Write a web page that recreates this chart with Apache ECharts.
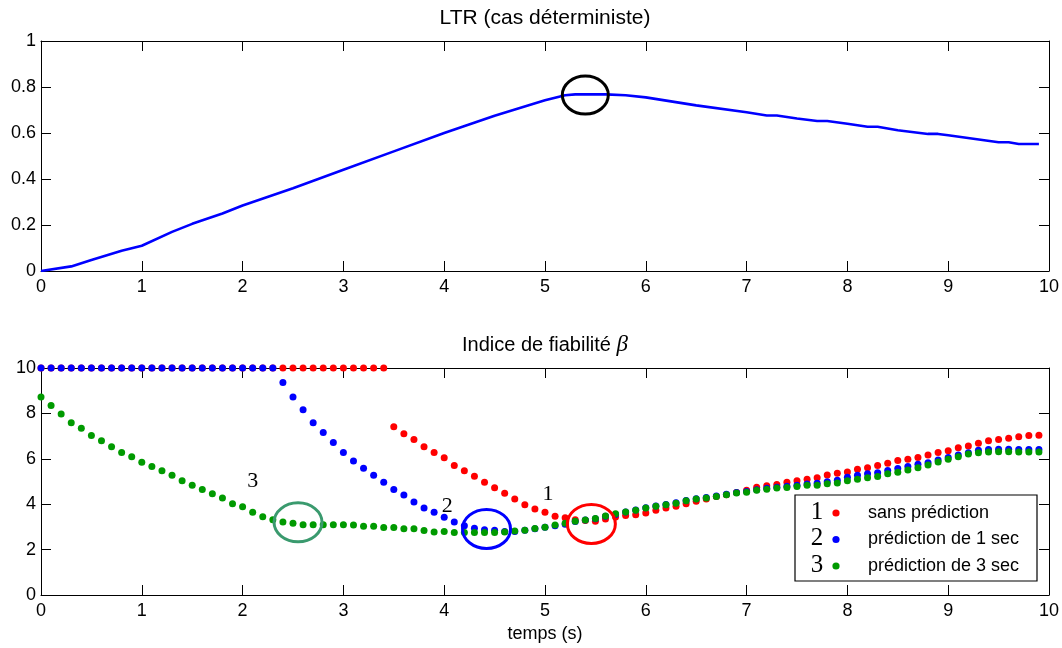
<!DOCTYPE html>
<html>
<head>
<meta charset="utf-8">
<script src="https://cdn.jsdelivr.net/npm/echarts@6/dist/echarts.min.js"></script>
<style>
html,body{margin:0;padding:0;background:#fff;}
#c{width:1062px;height:648px;}
</style>
</head>
<body>
<div id="c"></div>
<script>
// ---------- Data ----------
// Top plot: LTR (deterministic case)
const ltrT = [0,0.3,0.5,0.8,1.0,1.3,1.5,1.8,2.0,2.5,3.0,3.5,4.0,4.5,5.0,5.2,5.3,5.6,5.8,6.0,6.5,7.0,7.2,7.3,7.5,7.7,7.8,8.0,8.2,8.3,8.5,8.8,8.9,9.0,9.5,9.6,9.7,9.9];
const ltrV = [0,0.02,0.048,0.088,0.11,0.17,0.205,0.25,0.285,0.36,0.44,0.52,0.60,0.675,0.742,0.764,0.768,0.768,0.764,0.755,0.72,0.69,0.676,0.676,0.663,0.652,0.652,0.64,0.627,0.627,0.612,0.596,0.596,0.59,0.56,0.56,0.552,0.552];

// Bottom plot: sample times (s), step 0.1
const times = Array.from({length:100}, (_, i) => +(i * 0.1).toFixed(1));

const betaSans = [10,10,10,10,10,10,10,10,10,10, 10,10,10,10,10,10,10,10,10,10, 10,10,10,10,10,10,10,10,10,10, 10,10,10,10,10,
  7.41,7.10,6.85,6.53,6.28,6.05,5.71,5.47,5.23,4.97,4.72,4.48,4.23,3.98,3.79,
  3.64,3.47,3.40,3.32,3.28,3.25,3.35,3.44,3.50,3.54,
  3.61,3.73,3.83,3.91,4.02,4.13,4.23,4.34,4.42,4.52,
  4.61,4.75,4.81,4.87,4.97,5.03,5.10,5.17,5.29,5.36,
  5.42,5.54,5.61,5.71,5.80,5.92,5.98,6.06,6.17,6.28,
  6.36,6.49,6.56,6.68,6.79,6.85,6.91,6.97,7.03,7.04];

const beta1s = [10,10,10,10,10,10,10,10,10,10, 10,10,10,10,10,10,10,10,10,10, 10,10,10,10,
  9.36,8.72,8.16,7.59,7.16,6.72,
  6.28,5.90,5.58,5.28,4.97,4.65,4.40,4.10,3.83,3.64,
  3.42,3.22,3.05,2.94,2.87,2.85,2.80,2.80,2.85,2.92,
  2.98,3.05,3.12,3.24,3.30,3.36,3.47,3.55,3.66,3.74,
  3.84,3.92,3.99,4.06,4.16,4.24,4.29,4.36,4.44,4.51,
  4.56,4.64,4.70,4.75,4.79,4.84,4.89,4.92,4.99,5.06,
  5.19,5.28,5.34,5.39,5.48,5.57,5.66,5.76,5.83,5.95,
  6.06,6.17,6.27,6.38,6.41,6.42,6.42,6.41,6.41,6.41];

const beta3s = [8.72,8.35,7.97,7.59,7.35,7.03,6.79,6.53,6.28,6.09,
  5.85,5.66,5.47,5.28,5.03,4.84,4.65,4.46,4.27,4.02,
  3.89,3.64,3.45,3.32,3.22,3.16,3.10,3.10,3.10,3.10,
  3.10,3.08,3.03,3.03,2.97,2.97,2.92,2.92,2.84,2.78,
  2.80,2.75,2.75,2.75,2.75,2.75,2.78,2.82,2.85,2.93,
  2.98,3.08,3.16,3.25,3.30,3.37,3.48,3.58,3.66,3.73,
  3.83,3.91,3.98,4.04,4.15,4.23,4.27,4.34,4.42,4.49,
  4.53,4.61,4.66,4.71,4.74,4.78,4.83,4.84,4.90,4.93,
  5.03,5.10,5.16,5.22,5.34,5.41,5.51,5.61,5.73,5.86,
  5.98,6.09,6.21,6.27,6.30,6.31,6.31,6.30,6.30,6.30];

const seriesNames = ['sans prédiction','prédiction de 1 sec','prédiction de 3 sec'];
const seriesNums = ['1','2','3'];
const seriesColors = ['#ff0000','#0000ff','#009a00'];

// annotations (data coordinates)
const topEllipse = {x:5.40, y:0.765};
const botEllX = [2.55, 4.42, 5.46];
const botEllY = [3.20, 2.91, 3.13];
const botEllColor = ['#3a9a6e','#0000ff','#ff0000'];
const numLabX = [2.10, 4.03, 5.03];
const numLabY = [5.02, 3.89, 4.45];
const numLabText = ['3','2','1'];

// ---------- Chart ----------
const chart = echarts.init(document.getElementById('c'), null, {renderer:'canvas'});
const SANS = 'Liberation Sans, Arial, sans-serif';
const SERIF = 'Liberation Serif, Times New Roman, serif';
const FS = 18;

function xAx(grid, pos, labels, extra){
  return Object.assign({
    type:'value', gridIndex:grid, position:pos, min:0, max:10, interval:1,
    axisLine:{show:true, onZero:false, lineStyle:{color:'#000', width:1}},
    axisTick:{show:true, inside:true, length:10, lineStyle:{color:'#000'}},
    axisLabel:{show:labels, color:'#000', fontSize:FS, fontFamily:SANS, margin:7},
    splitLine:{show:false}
  }, extra||{});
}
function yAx(grid, pos, labels, max, interval){
  return {
    type:'value', gridIndex:grid, position:pos, min:0, max:max, interval:interval,
    axisLine:{show:true, onZero:false, lineStyle:{color:'#000', width:1}},
    axisTick:{show:true, inside:true, length:10, lineStyle:{color:'#000'}},
    axisLabel:{show:labels, color:'#000', fontSize:FS, fontFamily:SANS, margin:5,
      formatter: v => String(+v.toFixed(1))},
    splitLine:{show:false}
  };
}

function ellipseSeries(xi, yi, xs, ys, colors, rx, ry){
  return {
    type:'custom', xAxisIndex:xi, yAxisIndex:yi, clip:false, silent:true, z:10,
    data: xs.map((x,i)=>[x, ys[i], i]),
    renderItem:(params, api)=>{
      const p = api.coord([api.value(0), api.value(1)]);
      const i = api.value(2);
      return {type:'ellipse', shape:{cx:p[0], cy:p[1], rx:rx, ry:ry},
        style:{fill:null, stroke:colors[i], lineWidth:3}};
    }
  };
}

function scatter(i, values){
  return {type:'scatter', name:seriesNames[i], xAxisIndex:2, yAxisIndex:2, symbolSize:7,
    itemStyle:{color:seriesColors[i], opacity:1}, emphasis:{disabled:true},
    data: times.map((t,k)=>[t, values[k]])};
}

const option = {
  animation:false,
  backgroundColor:'#fff',
  grid:[
    {left:41, right:12, top:41, height:230},
    {left:41, right:12, top:368, height:227}
  ],
  xAxis:[
    xAx(0,'bottom',true),
    xAx(0,'top',false),
    xAx(1,'bottom',true,{name:'temps (s)', nameLocation:'middle', nameGap:30,
      nameTextStyle:{color:'#000', fontSize:18, fontFamily:SANS}}),
    xAx(1,'top',false)
  ],
  yAxis:[
    yAx(0,'left',true,1,0.2),
    yAx(0,'right',false,1,0.2),
    yAx(1,'left',true,10,2),
    yAx(1,'right',false,10,2)
  ],
  series:[
    {type:'line', xAxisIndex:0, yAxisIndex:0, showSymbol:false, symbol:'none',
      lineStyle:{color:'#0000ff', width:2.6}, data: ltrT.map((t,i)=>[t, ltrV[i]])},
    ellipseSeries(0,0,[topEllipse.x],[topEllipse.y],['#000'],23,19),
    scatter(0, betaSans),
    scatter(1, beta1s),
    scatter(2, beta3s),
    ellipseSeries(2,2,botEllX,botEllY,botEllColor,24,19.5),
    {type:'custom', xAxisIndex:2, yAxisIndex:2, clip:false, silent:true, z:11,
      data: numLabX.map((x,i)=>[x, numLabY[i], i]),
      renderItem:(params, api)=>{
        const p = api.coord([api.value(0), api.value(1)]);
        return {type:'text', x:p[0], y:p[1], style:{text:numLabText[api.value(2)],
          fontFamily:SERIF, fontSize:22, fill:'#000', align:'center', verticalAlign:'middle'}};
      }}
  ],
  graphic:[
    {type:'text', style:{text:'LTR (cas déterministe)', fontFamily:SANS,
      fontSize:21, fill:'#000', align:'center', verticalAlign:'middle', x:545, y:18}},
    {type:'text', style:{
      text:'Indice de fiabilité {b|β}', fontFamily:SANS, fontSize:20, fill:'#000',
      align:'center', verticalAlign:'middle', x:545, y:345,
      rich:{b:{fontFamily:SERIF, fontStyle:'italic', fontSize:23, fill:'#000'}}}},
    {type:'rect', shape:{x:795, y:495, width:242, height:86},
      style:{fill:'#fff', stroke:'#000', lineWidth:1.2}, z:20}
  ].concat(seriesNames.flatMap((n,i)=>{
    const y = 512 + i*26.5;
    return [
      {type:'text', z:21, style:{text:seriesNums[i], fontFamily:SERIF, fontSize:25, fill:'#000',
        align:'center', verticalAlign:'middle', x:817, y:y}},
      {type:'circle', z:21, shape:{cx:836, cy:y+1, r:3.6}, style:{fill:seriesColors[i]}},
      {type:'text', z:21, style:{text:n, fontFamily:SANS, fontSize:18, fill:'#000',
        align:'left', verticalAlign:'middle', x:868, y:y+1}}
    ];
  }))
};
chart.setOption(option);
</script>
</body>
</html>
